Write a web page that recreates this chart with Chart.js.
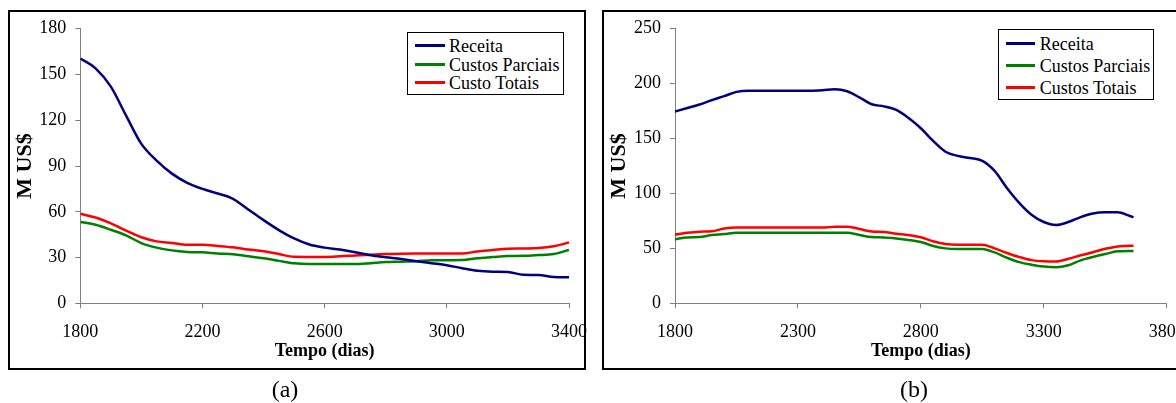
<!DOCTYPE html>
<html>
<head>
<meta charset="utf-8">
<script src="https://cdn.jsdelivr.net/npm/chart.js@4.4.1/dist/chart.umd.min.js"></script>
<style>
  html, body { margin: 0; padding: 0; background: #fff; }
  body {
    width: 1176px; height: 403px; overflow: hidden; position: relative;
    font-family: 'Liberation Serif', 'Times New Roman', serif; color: #000;
  }
  .frame { position: absolute; border: 2px solid #000; box-sizing: border-box; }
  canvas { position: absolute; top: 0; }
  .legend { position: absolute; border: 1px solid #000; box-sizing: border-box; background: #fff; }
  .swatch { position: absolute; height: 3px; }
  .ltext { position: absolute; font-size: 18px; line-height: 18px; white-space: nowrap; }
  .caption { position: absolute; font-size: 24px; line-height: 24px; transform: translateX(-50%); }
</style>
</head>
<body>
<div class="frame" style="left:8px;top:10px;width:578px;height:360px"></div>
<div class="frame" style="left:602px;top:10px;width:700px;height:360px"></div>
<canvas id="chartA" width="600" height="403" style="left:0;width:600px;height:403px"></canvas>
<canvas id="chartB" width="600" height="403" style="left:600px;width:600px;height:403px"></canvas>
<div class="caption" style="left:285px;top:377px">(a)</div>
<div class="caption" style="left:914px;top:377px">(b)</div>

<script>
// ---- Panel (a) ----
const daysA = [1800, 1850, 1900, 1950, 2000, 2050, 2100, 2150, 2200, 2250, 2300, 2350, 2400,
  2450, 2500, 2550, 2600, 2650, 2700, 2750, 2800, 2850, 2900, 2950, 3000, 3050, 3100, 3150,
  3200, 3250, 3300, 3350, 3400];
const receitaA = [160.5, 154, 142, 123, 104.5, 93.5, 85, 79, 75, 72, 68.5, 61.5, 54.5,
  48, 42.5, 38.5, 36.5, 35.2, 33.5, 31.5, 30.2, 29, 27.6, 26.3, 25, 23, 21.3, 20.7,
  20.5, 18.7, 18.5, 17.2, 17];
const parciaisA = [53.3, 51.5, 48.2, 44.5, 39.5, 36.5, 34.7, 33.7, 33.4, 32.6, 32.1, 30.8, 29.5,
  27.8, 26.2, 25.7, 25.7, 25.7, 25.7, 26.3, 27, 27.3, 27.6, 28.3, 28.3, 28.4, 29.6, 30.3,
  31, 31.1, 31.6, 32.3, 35];
const totaisA = [58.7, 56.2, 52.4, 47.7, 43.3, 40.6, 39.6, 38.3, 38.3, 37.6, 36.7, 35.2, 34.1,
  32.3, 30.5, 30.4, 30.4, 30.8, 31.4, 31.9, 32.3, 32.5, 32.6, 32.6, 32.6, 32.6, 34, 34.9,
  35.8, 35.9, 36.2, 37.4, 39.8];
const xTicksA = [1800, 2200, 2600, 3000, 3400];
const yTicksA = [0, 30, 60, 90, 120, 150, 180];
const namesA = ['Receita', 'Custos Parciais', 'Custo Totais'];

// ---- Panel (b) ----
const daysB = [1800, 1850, 1900, 1950, 2000, 2050, 2100, 2150, 2200, 2250, 2300, 2350, 2400,
  2450, 2500, 2550, 2600, 2650, 2700, 2750, 2800, 2850, 2900, 2950, 3000, 3050, 3100, 3150,
  3200, 3250, 3300, 3350, 3400, 3450, 3500, 3550, 3600, 3650, 3665];
const receitaB = [174.5, 177.8, 181, 185, 188.6, 192.5, 193.6, 193.6, 193.6, 193.6, 193.6, 193.6, 194,
  194.8, 193, 187.5, 181.2, 179.3, 176, 168.7, 159.4, 147.8, 138, 134.2, 132.3, 129.7, 120.5, 105,
  91.5, 80.7, 74, 71.3, 74, 78.5, 81.8, 82.8, 82.8, 79.5, 78.3];
const parciaisB = [58.3, 60, 60.3, 62.1, 63, 64.3, 64.3, 64.3, 64.3, 64.3, 64.3, 64.3, 64.3,
  64.3, 64.3, 62.2, 60.3, 60, 59.1, 57.7, 55.8, 52.2, 50, 49.5, 49.5, 49.4, 46.3, 41.5,
  37.5, 35.1, 33.4, 32.8, 34.6, 39.1, 42.1, 44.8, 47.3, 47.6, 47.6];
const totaisB = [62.5, 64.2, 65.2, 65.6, 68, 68.9, 68.9, 68.9, 68.9, 68.9, 68.9, 68.9, 68.9,
  69.8, 69.8, 67.6, 65.4, 65, 63.4, 62.2, 60.1, 56.5, 54, 53.4, 53.4, 53.4, 50, 45.8,
  42.1, 39.3, 38.2, 38, 40.5, 43.7, 46.5, 49.6, 51.8, 52.5, 52.5];
const xTicksB = [1800, 2300, 2800, 3300, 3800];
const yTicksB = [0, 50, 100, 150, 200, 250];
const namesB = ['Receita', 'Custos Parciais', 'Custos Totais'];

const seriesColors = ['#000080', '#008000', '#ff0000'];
const axisGray = '#808080';

Chart.defaults.font.family = "'Liberation Serif', 'Times New Roman', serif";
Chart.defaults.color = '#000';

function points(xs, ys) {
  return xs.map((x, i) => ({ x: x, y: ys[i] }));
}

function fixedTicks(list) {
  return scale => { scale.ticks = list.map(v => ({ value: v })); };
}

function drawPanel(id, cfg) {
  const datasets = cfg.series.map((ys, i) => ({
    label: cfg.names[i],
    data: points(cfg.days, ys),
    borderColor: seriesColors[i],
    backgroundColor: seriesColors[i],
    borderWidth: 2.5,
    pointRadius: 0,
    cubicInterpolationMode: 'monotone',
    fill: false
  }));
  return new Chart(document.getElementById(id), {
    type: 'line',
    data: { datasets: datasets },
    options: {
      responsive: false,
      animation: false,
      events: [],
      layout: { padding: cfg.padding },
      plugins: { legend: { display: false }, tooltip: { enabled: false } },
      scales: {
        x: {
          type: 'linear',
          min: cfg.xTicks[0],
          max: cfg.xTicks[cfg.xTicks.length - 1],
          afterBuildTicks: fixedTicks(cfg.xTicks),
          afterFit: s => { s.height = 70; },
          ticks: {
            callback: v => String(v), color: '#000', font: { size: 18 },
            padding: 13, maxRotation: 0, autoSkip: false
          },
          grid: { drawOnChartArea: false, drawTicks: true, tickLength: 5, color: axisGray },
          border: { color: axisGray, width: 1 },
          title: {
            display: true, text: 'Tempo (dias)', color: '#000',
            font: { size: 18, weight: 'bold' }, padding: { top: 0, bottom: 11 }
          }
        },
        y: {
          min: cfg.yTicks[0],
          max: cfg.yTicks[cfg.yTicks.length - 1],
          afterBuildTicks: fixedTicks(cfg.yTicks),
          afterFit: s => { s.width = cfg.yWidth; },
          ticks: { callback: v => String(v), color: '#000', font: { size: 18 }, padding: 9 },
          grid: { drawOnChartArea: false, drawTicks: true, tickLength: 5, color: axisGray },
          border: { color: axisGray, width: 1 },
          title: {
            display: true, text: 'M US$', color: '#000',
            font: { size: 22, weight: 'bold' }, padding: { top: cfg.yTitlePad, bottom: 0 }
          }
        }
      }
    }
  });
}

// Legend box placed inside the plot area, entries taken from the dataset labels
function drawLegend(chart, box) {
  const el = document.createElement('div');
  el.className = 'legend';
  el.style.left = box.left + 'px';
  el.style.top = box.top + 'px';
  el.style.width = box.width + 'px';
  el.style.height = box.height + 'px';
  chart.data.datasets.forEach((ds, i) => {
    const rowY = box.firstRow + i * box.pitch - box.top - 1;
    const sw = document.createElement('div');
    sw.className = 'swatch';
    sw.style.background = ds.borderColor;
    sw.style.left = (box.swatchX - box.left - 1) + 'px';
    sw.style.width = box.swatchW + 'px';
    sw.style.top = (rowY - 1.5) + 'px';
    const tx = document.createElement('div');
    tx.className = 'ltext';
    tx.textContent = ds.label;
    tx.style.left = (box.textX - box.left - 1) + 'px';
    tx.style.top = (rowY - 8.5) + 'px';
    el.appendChild(sw);
    el.appendChild(tx);
  });
  document.body.appendChild(el);
}

const chartA = drawPanel('chartA', {
  days: daysA, series: [receitaA, parciaisA, totaisA], names: namesA,
  xTicks: xTicksA, yTicks: yTicksA,
  padding: { left: 0, top: 28.7, right: 29, bottom: 29.7 },
  yWidth: 80.3, yTitlePad: 12
});
const chartB = drawPanel('chartB', {
  days: daysB, series: [receitaB, parciaisB, totaisB], names: namesB,
  xTicks: xTicksB, yTicks: yTicksB,
  padding: { left: 0, top: 28.7, right: 33.3, bottom: 29.7 },
  yWidth: 75, yTitlePad: 6
});

drawLegend(chartA, { left: 407, top: 31.5, width: 156.5, height: 63.5,
  firstRow: 45.7, pitch: 18.3, swatchX: 415.3, swatchW: 29.4, textX: 449 });
drawLegend(chartB, { left: 998, top: 29.3, width: 155.7, height: 70.7,
  firstRow: 43.3, pitch: 22, swatchX: 1005.7, swatchW: 29.6, textX: 1039.7 });
</script>
</body>
</html>
